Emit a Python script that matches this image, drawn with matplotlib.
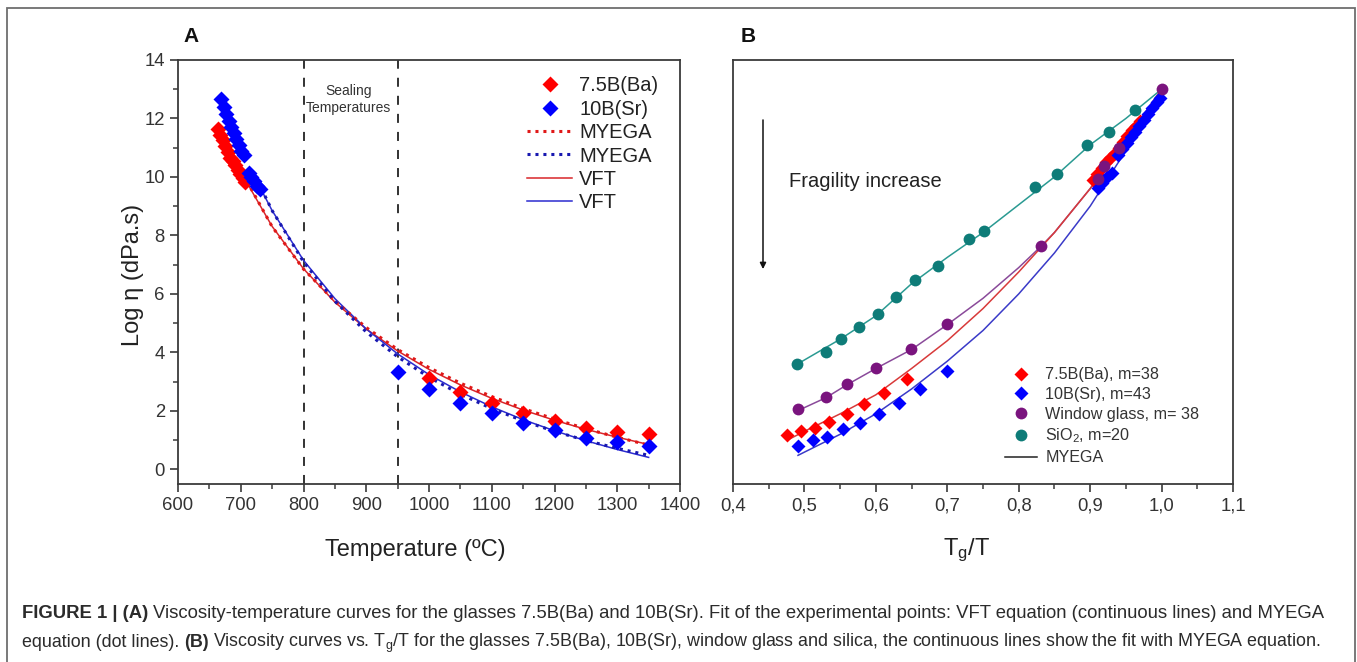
import numpy as np
import matplotlib
matplotlib.use("Agg")
import matplotlib.pyplot as plt
from matplotlib.patches import Rectangle
from matplotlib.lines import Line2D
from matplotlib.transforms import IdentityTransform

plt.rcParams['font.family'] = ['Liberation Sans', 'DejaVu Sans']
plt.rcParams['mathtext.fontset'] = 'custom'
plt.rcParams['mathtext.rm'] = 'Liberation Sans'
plt.rcParams['mathtext.it'] = 'Liberation Sans:italic'
plt.rcParams['mathtext.bf'] = 'Liberation Sans:bold'

# ---- panel A data: viscosity vs temperature ----
ba_T = [663, 667, 671, 675, 679, 683, 687, 691, 695, 699, 703, 707,
        1000, 1050, 1100, 1150, 1200, 1250, 1300, 1350]
ba_log = [11.65, 11.45, 11.25, 11.05, 10.85, 10.65, 10.55, 10.4, 10.25, 10.1, 9.95, 9.82,
          3.12, 2.64, 2.26, 1.92, 1.64, 1.4, 1.27, 1.2]
sr_T = [669, 673, 677, 681, 685, 689, 693, 697, 701, 705, 713, 717, 721, 726, 730,
        950, 1000, 1050, 1100, 1150, 1200, 1250, 1300, 1350]
sr_log = [12.65, 12.4, 12.15, 11.9, 11.7, 11.5, 11.3, 11.1, 10.9, 10.75, 10.15, 10.0, 9.85, 9.7, 9.6,
          3.32, 2.74, 2.26, 1.92, 1.57, 1.34, 1.06, 0.92, 0.79]

fit_T_ba = [710, 750, 800, 850, 900, 950, 1000, 1050, 1100, 1150, 1200, 1250, 1300, 1350]
vft_ba = [9.80, 8.31, 6.86, 5.72, 4.80, 4.05, 3.42, 2.89, 2.43, 2.03, 1.68, 1.37, 1.10, 0.85]
myega_ba = [9.85, 8.30, 6.85, 5.75, 4.85, 4.10, 3.48, 2.95, 2.49, 2.08, 1.72, 1.39, 1.10, 0.83]
fit_T_sr = [733, 750, 800, 850, 900, 950, 1000, 1050, 1100, 1150, 1200, 1250, 1300, 1350]
vft_sr = [9.55, 8.85, 7.15, 5.84, 4.80, 3.95, 3.24, 2.65, 2.14, 1.70, 1.32, 0.98, 0.68, 0.41]
myega_sr = [9.60, 8.85, 7.10, 5.75, 4.70, 3.85, 3.15, 2.57, 2.08, 1.66, 1.30, 0.99, 0.72, 0.48]

sealing = [800, 950]

# ---- panel B data: viscosity vs Tg/T ----
b_ba_x = [0.476, 0.495, 0.515, 0.534, 0.560, 0.583, 0.611, 0.644,
          0.904, 0.910, 0.916, 0.922, 0.928, 0.934, 0.940, 0.946, 0.952, 0.958, 0.964, 0.970]
b_ba_y = [1.16, 1.30, 1.40, 1.61, 1.88, 2.23, 2.60, 3.08,
          9.9, 10.1, 10.3, 10.5, 10.65, 10.8, 11.0, 11.2, 11.4, 11.6, 11.75, 11.9]
b_sr_x = [0.491, 0.512, 0.532, 0.554, 0.578, 0.604, 0.633, 0.662, 0.700,
          0.911, 0.917, 0.924, 0.931, 0.939, 0.945, 0.951, 0.957, 0.963, 0.969, 0.975,
          0.981, 0.987, 0.993, 0.998]
b_sr_y = [0.79, 0.99, 1.10, 1.37, 1.58, 1.88, 2.26, 2.74, 3.36,
          9.62, 9.8, 10.0, 10.15, 10.75, 10.95, 11.15, 11.35, 11.55, 11.75, 11.95,
          12.15, 12.35, 12.55, 12.7]
win_x = [0.491, 0.530, 0.560, 0.600, 0.649, 0.700, 0.831, 0.911, 0.920, 0.941, 1.0]
win_y = [2.05, 2.46, 2.91, 3.46, 4.11, 4.96, 7.63, 9.93, 10.37, 10.99, 13.0]
sio2_x = [0.490, 0.530, 0.551, 0.576, 0.603, 0.628, 0.655, 0.687, 0.731, 0.752,
          0.823, 0.854, 0.895, 0.927, 0.963]
sio2_y = [3.60, 4.00, 4.45, 4.86, 5.31, 5.89, 6.47, 6.95, 7.87, 8.15,
          9.66, 10.10, 11.09, 11.54, 12.29]

# MYEGA fit lines in panel B
fit_ba_x = [0.476, 0.5, 0.55, 0.6, 0.65, 0.7, 0.75, 0.8, 0.85, 0.9, 0.95, 1.0]
fit_ba_y = [1.0, 1.3, 1.9, 2.55, 3.45, 4.4, 5.5, 6.75, 8.1, 9.6, 11.25, 13.0]
fit_sr_x = [0.491, 0.55, 0.6, 0.65, 0.7, 0.75, 0.8, 0.85, 0.9, 0.95, 1.0]
fit_sr_y = [0.48, 1.2, 1.9, 2.75, 3.7, 4.75, 6.0, 7.4, 9.0, 10.9, 13.0]
fit_win_x = [0.49, 0.53, 0.56, 0.6, 0.65, 0.7, 0.75, 0.8, 0.83, 0.85, 0.9, 0.95, 1.0]
fit_win_y = [2.0, 2.45, 2.9, 3.45, 4.1, 4.95, 5.85, 6.9, 7.6, 8.1, 9.6, 11.25, 13.0]
fit_sio2_x = [0.49, 0.55, 0.6, 0.65, 0.7, 0.75, 0.8, 0.85, 0.9, 0.95, 1.0]
fit_sio2_y = [3.6, 4.45, 5.25, 6.35, 7.25, 8.1, 9.05, 10.0, 11.1, 12.0, 13.0]

b_ticks = [0.4, 0.5, 0.6, 0.7, 0.8, 0.9, 1.0, 1.1]
b_ticklabels = ['0,4', '0,5', '0,6', '0,7', '0,8', '0,9', '1,0', '1,1']

W, H = 1357, 662
fig = plt.figure(figsize=(W / 100, H / 100), dpi=100)

tick_col = '#333333'
spine_col = '#3a3a3a'


def style_axes(ax):
    for s in ax.spines.values():
        s.set_color(spine_col)
        s.set_linewidth(1.3)
    ax.tick_params(direction='out', colors=spine_col, labelcolor=tick_col,
                   labelsize=13.3, length=6, width=1.2, top=False, right=False)
    ax.tick_params(which='minor', direction='out', length=3.5, width=1.1,
                   colors=spine_col, top=False, right=False)


def fx(px):
    return px / W


def fy(py):
    return 1 - py / H


axA = fig.add_axes([fx(178), fy(484), fx(680 - 178), (484 - 60) / H])
axB = fig.add_axes([fx(733), fy(484), fx(1233 - 733), (484 - 60) / H])

# ---- panel A ----
red = '#ff0000'
blue = '#0000ff'
for xv in sealing:
    axA.axvline(xv, color='#222222', lw=1.3, ls=(0, (5, 5)))
axA.plot(fit_T_ba, vft_ba, color='#d8262a', lw=1.1)
axA.plot(fit_T_sr, vft_sr, color='#2b2bd0', lw=1.1)
axA.plot(fit_T_ba, myega_ba, color='#e01818', lw=2.2, ls=(0, (1, 1.6)))
axA.plot(fit_T_sr, myega_sr, color='#1818b0', lw=2.2, ls=(0, (1, 1.6)))
axA.plot(ba_T, ba_log, 'D', color=red, ms=8, mec='none')
axA.plot(sr_T, sr_log, 'D', color=blue, ms=8, mec='none')
axA.set_xlim(600, 1400)
axA.set_ylim(-0.5, 14)
axA.set_xticks(range(600, 1401, 100))
axA.set_xticks(range(650, 1400, 100), minor=True)
axA.set_yticks(range(0, 15, 2))
axA.set_yticks(range(1, 14, 2), minor=True)
style_axes(axA)
axA.text(872, 12.95, 'Sealing', ha='center', va='center', fontsize=10,
         color='#333333')
axA.text(872, 12.35, 'Temperatures', ha='center', va='center', fontsize=10,
         color='#333333')

handlesA = [
    Line2D([], [], ls='none', marker='D', color=red, ms=8, mec='none'),
    Line2D([], [], ls='none', marker='D', color=blue, ms=8, mec='none'),
    Line2D([], [], color='#e01818', lw=2.2, ls=(0, (1, 1.6))),
    Line2D([], [], color='#1818b0', lw=2.2, ls=(0, (1, 1.6))),
    Line2D([], [], color='#d8262a', lw=1.1),
    Line2D([], [], color='#2b2bd0', lw=1.1),
]
labelsA = ['7.5B(Ba)', '10B(Sr)', 'MYEGA', 'MYEGA', 'VFT', 'VFT']
legA = axA.legend(handlesA, labelsA, loc='upper right', frameon=False,
                  fontsize=14.5, handlelength=2.25, handletextpad=0.35,
                  labelspacing=0.22, borderaxespad=0.3,
                  bbox_to_anchor=(0.985, 0.995))
for t in legA.get_texts():
    t.set_color('#222222')

# ---- panel B ----
axB.plot(fit_sio2_x, fit_sio2_y, color='#2a9a92', lw=1.1)
axB.plot(fit_win_x, fit_win_y, color='#8a4a9a', lw=1.1)
axB.plot(fit_ba_x, fit_ba_y, color='#d83a3a', lw=1.1)
axB.plot(fit_sr_x, fit_sr_y, color='#3a3ac8', lw=1.1)
axB.plot(b_ba_x, b_ba_y, 'D', color=red, ms=7.5, mec='none')
axB.plot(b_sr_x, b_sr_y, 'D', color=blue, ms=7.5, mec='none')
axB.plot(win_x, win_y, 'o', color='#7a147e', ms=8.5, mec='none')
axB.plot(sio2_x, sio2_y, 'o', color='#0e7c78', ms=8.5, mec='none')
axB.set_xlim(0.4, 1.1)
axB.set_ylim(-0.5, 14)
axB.set_xticks(b_ticks)
axB.set_xticklabels(b_ticklabels)
axB.set_xticks([0.45, 0.55, 0.65, 0.75, 0.85, 0.95, 1.05], minor=True)
axB.set_yticks([])
style_axes(axB)

axB.annotate('', xy=(0.442, 6.85), xytext=(0.442, 11.95),
             arrowprops=dict(arrowstyle='-|>', color='#111111', lw=1.1,
                             mutation_scale=9, shrinkA=0, shrinkB=0))
axB.text(0.478, 9.85, 'Fragility increase', ha='left', va='center',
         fontsize=14.5, color='#222222')

handlesB = [
    Line2D([], [], ls='none', marker='D', color=red, ms=7.5, mec='none'),
    Line2D([], [], ls='none', marker='D', color=blue, ms=7.5, mec='none'),
    Line2D([], [], ls='none', marker='o', color='#7a147e', ms=8.5, mec='none'),
    Line2D([], [], ls='none', marker='o', color='#0e7c78', ms=8.5, mec='none'),
    Line2D([], [], color='#222222', lw=1.1),
]
labelsB = ['7.5B(Ba), m=38', '10B(Sr), m=43', 'Window glass, m= 38',
           'SiO$_\\mathregular{2}$, m=20', 'MYEGA']
legB = axB.legend(handlesB, labelsB, loc='lower left', frameon=False,
                  fontsize=11.6, handlelength=2.0, handletextpad=0.5,
                  labelspacing=0.3, bbox_to_anchor=(0.515, 0.01))
for t in legB.get_texts():
    t.set_color('#333333')

# ---- labels ----
fig.text(fx(191), fy(37), 'A', ha='center', va='center', fontsize=15,
         fontweight='bold', color='#111111')
fig.text(fx(748), fy(37), 'B', ha='center', va='center', fontsize=15,
         fontweight='bold', color='#111111')
fig.text(fx(133), fy(275), 'Log \u03b7 (dPa.s)', rotation=90, ha='center',
         va='center', fontsize=17, color='#222222')
fig.text(fx(415), fy(550), 'Temperature (\u00baC)', ha='center', va='center',
         fontsize=17, color='#222222')
fig.text(fx(966), fy(550), 'T$_\\mathregular{g}$/T', ha='center',
         va='center', fontsize=17, color='#222222')

# outer frame
fig.patches.append(Rectangle((fx(7), -0.05), fx(1355 - 7), 1.05 - 8 / H,
                             transform=fig.transFigure, fill=False,
                             edgecolor='#6e6e6e', lw=1.3))

# caption with bold parts, each line fitted to the same width
renderer = fig.canvas.get_renderer()


def rich_line(x0, y, parts, target_w, size=13.3, gap=4.5):
    texts = []
    for s, bold in parts:
        texts.append(fig.text(0, y, s, transform=IdentityTransform(),
                              fontsize=size,
                              fontweight='bold' if bold else 'normal',
                              color='#2b2b2b', ha='left', va='baseline'))
    total = sum(t.get_window_extent(renderer).width for t in texts) + gap * (len(texts) - 1)
    if total > target_w:
        for t in texts:
            t.set_fontsize(size * target_w / total)
    x = x0
    for t in texts:
        t.set_x(x)
        x += t.get_window_extent(renderer).width + gap


rich_line(22, H - 618, [
    ('FIGURE 1 | (A)', True),
    ('Viscosity-temperature curves for the glasses 7.5B(Ba) and 10B(Sr). '
     'Fit of the experimental points: VFT equation (continuous lines) and MYEGA', False)],
    1305)
rich_line(22, H - 647, [
    ('equation (dot lines).', False),
    ('(B)', True),
    ('Viscosity curves vs. T$_\\mathregular{g}$/T for the glasses 7.5B(Ba), 10B(Sr), '
     'window glass and silica, the continuous lines show the fit with MYEGA equation.', False)],
    1305)

fig.savefig('out.png', dpi=100)
